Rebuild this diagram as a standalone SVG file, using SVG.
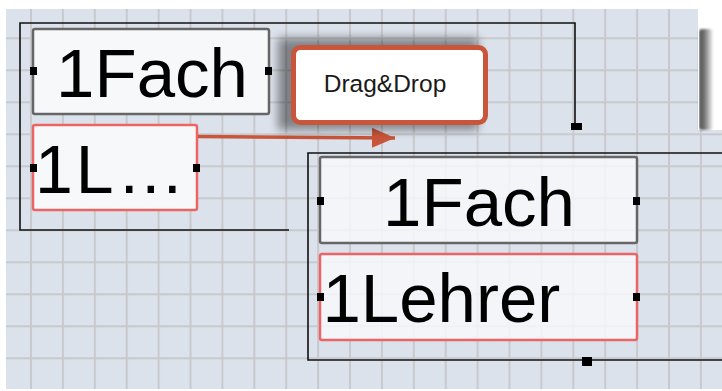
<svg xmlns="http://www.w3.org/2000/svg" width="722" height="391" viewBox="0 0 722 391">
<style>
.big{font-family:"Liberation Sans",Arial,sans-serif;font-size:69px;fill:#000}
.lbl{font-family:"Liberation Sans",Arial,sans-serif;font-size:24.5px;fill:#1a1a1a}
.gray{fill:#f7f8fa;stroke:#666;stroke-width:2.5}
.red{fill:#f7f8fa;stroke:#ec6464;stroke-width:2.5}
.ctr{fill:none;stroke:#111;stroke-width:1.6}
.hd{fill:#000}
</style>
<defs>
<pattern id="grid" patternUnits="userSpaceOnUse" x="30" y="37.3" width="31.9" height="32">
<rect width="31.9" height="32" fill="#dce2ec"/>
<rect x="0" y="0" width="2" height="32" fill="#c8c9cc"/>
<rect x="0" y="0" width="31.9" height="2" fill="#c8c9cc"/>
</pattern>
<linearGradient id="sh" x1="0" x2="1" y1="0" y2="0">
<stop offset="0" stop-color="#555"/>
<stop offset="0.35" stop-color="#6e6e6e"/>
<stop offset="1" stop-color="#f4f4f4"/>
</linearGradient>
<filter id="blur" x="-20%" y="-30%" width="140%" height="160%"><feGaussianBlur stdDeviation="5"/></filter>
<filter id="blur2" x="-50%" y="-20%" width="200%" height="140%"><feGaussianBlur stdDeviation="1.2"/></filter>
<marker id="ah" markerUnits="userSpaceOnUse" markerWidth="24" markerHeight="22" refX="23" refY="11" orient="auto">
<path d="M0,1 L23,11 L0,21 Z" fill="#c9553a"/>
</marker>
</defs>
<rect width="722" height="391" fill="#fff"/>
<rect x="6" y="9" width="716" height="380" fill="url(#grid)"/>
<rect x="698" y="0" width="24" height="130" fill="#fff"/>
<rect x="699" y="29" width="14" height="101" rx="3" fill="url(#sh)" filter="url(#blur2)"/>
<rect x="698" y="0" width="1" height="130" fill="#fff"/>

<g id="container2">
<path class="ctr" d="M722,153 H308 V360 H722"/>
<rect class="hd" x="582" y="357" width="10" height="9"/>
</g>
<g id="container1">
<path class="ctr" d="M289,230 H20 V23 H575 V126"/>
<rect class="hd" x="571" y="123" width="11" height="7"/>
</g>

<g id="fach1">
<rect class="gray" x="33" y="29" width="236" height="85" rx="2"/>
<rect class="hd" x="30" y="67" width="7" height="8"/>
<rect class="hd" x="265" y="67" width="7" height="8"/>
<text class="big" x="152" y="97" text-anchor="middle">1Fach</text>
</g>
<g id="lehrer1">
<rect class="red" x="33" y="125" width="164" height="85" rx="2"/>
<rect class="hd" x="30" y="164" width="7" height="8"/>
<rect class="hd" x="193" y="164" width="7" height="8"/>
<text class="big" x="35" y="193" style="font-size:68px;letter-spacing:3px">1L…</text>
</g>

<g id="fach2">
<rect class="gray" x="320" y="157" width="317" height="86" rx="2" fill-opacity="0.85"/>
<rect class="hd" x="317" y="197" width="7" height="8"/>
<rect class="hd" x="633" y="197" width="7" height="8"/>
<text class="big" x="479" y="226" text-anchor="middle">1Fach</text>
</g>
<g id="lehrer2">
<rect class="red" x="320" y="254" width="317" height="86" rx="2" fill-opacity="0.85"/>
<rect class="hd" x="317" y="293" width="7" height="8"/>
<rect class="hd" x="633" y="293" width="7" height="8"/>
<text class="big" x="322.5" y="322">1Lehrer</text>
</g>

<g id="connectors">
<path d="M198,136.5 L395,138" fill="none" stroke="#c9553a" stroke-width="3.5" marker-end="url(#ah)"/>
</g>

<g id="dragdrop">
<rect x="278" y="38" width="200" height="92" fill="#000" opacity="0.42" filter="url(#blur)"/>
<rect x="293.5" y="47.5" width="192" height="75" rx="7" fill="#fff" stroke="#c9553a" stroke-width="5"/>
<text class="lbl" x="385" y="92" text-anchor="middle">Drag&amp;Drop</text>
</g>
</svg>
